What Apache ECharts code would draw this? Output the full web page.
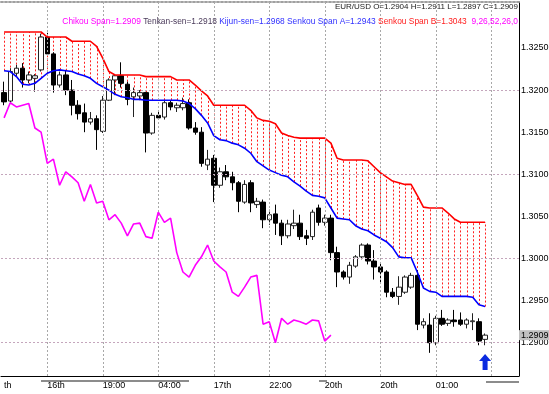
<!DOCTYPE html>
<html><head><meta charset="utf-8">
<script src="https://cdn.jsdelivr.net/npm/echarts@6/dist/echarts.min.js"></script>
<style>html,body{margin:0;padding:0;background:#fff}#c{width:549px;height:394px}</style>
</head><body><div id="c"></div>
<script>
// ---- data ----
const opens = [1.3197,1.3187,1.3220,1.3226,1.3212,1.3214,1.3224,1.3263,1.3243,1.3206,
1.3218,1.3200,1.3182,1.3173,1.3162,1.3166,1.3151,1.3188,1.3212,1.3217,
1.3207,1.3192,1.3193,1.3197,1.3149,1.3170,1.3168,1.3185,1.3179,1.3179,
1.3185,1.3155,1.3150,1.3111,1.3119,1.3087,1.3103,1.3097,1.3090,1.3067,
1.3090,1.3064,1.3067,1.3046,1.3053,1.3042,1.3027,1.3039,1.3042,1.3027,
1.3026,1.3060,1.3043,1.3048,1.3007,1.2984,1.2978,1.2991,1.3002,1.3016,
1.2997,1.2990,1.2984,1.2960,1.2955,1.2960,1.2966,1.2980,1.2921,1.2921,
1.2900,1.2929,1.2923,1.2927,1.2927,1.2922,1.2925,1.2925,1.2904];
const closes = [1.3186,1.3222,1.3226,1.3212,1.3218,1.3217,1.3263,1.3243,1.3206,1.3218,
1.3200,1.3182,1.3172,1.3162,1.3166,1.3153,1.3188,1.3212,1.3217,1.3208,
1.3189,1.3197,1.3197,1.3149,1.3170,1.3167,1.3185,1.3180,1.3182,1.3184,
1.3155,1.3150,1.3113,1.3118,1.3087,1.3103,1.3097,1.3090,1.3068,1.3088,
1.3066,1.3068,1.3046,1.3052,1.3042,1.3027,1.3041,1.3042,1.3026,1.3024,
1.3055,1.3043,1.3048,1.3007,1.2984,1.2978,1.2992,1.3002,1.3016,1.2997,
1.2990,1.2984,1.2960,1.2955,1.2966,1.2978,1.2980,1.2922,1.2925,1.2900,
1.2929,1.2922,1.2927,1.2925,1.2922,1.2927,1.2926,1.2902,1.2909];
const lows = [1.3182,1.3185,1.3217,1.3203,1.3208,1.3198,1.3222,1.3241,1.3197,1.3203,
1.3194,1.3170,1.3165,1.3150,1.3159,1.3129,1.3149,1.3187,1.3194,1.3203,
1.3182,1.3168,1.3188,1.3126,1.3147,1.3165,1.3165,1.3176,1.3174,1.3176,
1.3153,1.3147,1.3109,1.3105,1.3067,1.3084,1.3093,1.3081,1.3055,1.3065,
1.3055,1.3060,1.3036,1.3040,1.3028,1.3016,1.3024,1.3035,1.3022,1.3016,
1.3022,1.3039,1.3039,1.2998,1.2966,1.2975,1.2970,1.2989,1.2999,1.2993,
1.2975,1.2971,1.2954,1.2953,1.2945,1.2958,1.2964,1.2915,1.2917,1.2888,
1.2897,1.2920,1.2920,1.2919,1.2920,1.2917,1.2915,1.2897,1.2897];
const highs = [1.3210,1.3226,1.3230,1.3232,1.3222,1.3219,1.3267,1.3268,1.3245,1.3222,
1.3224,1.3212,1.3188,1.3184,1.3174,1.3170,1.3193,1.3214,1.3219,1.3233,
1.3210,1.3203,1.3200,1.3198,1.3173,1.3174,1.3188,1.3187,1.3185,1.3191,
1.3189,1.3162,1.3156,1.3129,1.3123,1.3108,1.3111,1.3103,1.3092,1.3093,
1.3093,1.3072,1.3070,1.3058,1.3064,1.3046,1.3046,1.3058,1.3052,1.3034,
1.3058,1.3064,1.3052,1.3052,1.3014,1.2986,1.2996,1.3004,1.3018,1.3018,
1.3010,1.2995,1.2986,1.2965,1.2979,1.2980,1.2983,1.2986,1.2929,1.2935,
1.2932,1.2939,1.2929,1.2939,1.2936,1.2929,1.2935,1.2929,1.2911];
const senkouA = [1.3223,1.3222,1.3216,1.3207,1.3206,1.3208,1.3214,1.3220,1.3223,1.3224,
1.3223,1.3222,1.3219,1.3217,1.3214,1.3208,1.3204,1.3200,1.3195,1.3192,
1.3191,1.3189,1.3189,1.3188,1.3188,1.3188,1.3188,1.3188,1.3188,1.3187,
1.3184,1.3178,1.3170,1.3161,1.3146,1.3141,1.3140,1.3137,1.3135,1.3131,
1.3125,1.3115,1.3110,1.3105,1.3102,1.3099,1.3097,1.3091,1.3086,1.3080,
1.3075,1.3074,1.3072,1.3060,1.3048,1.3047,1.3046,1.3039,1.3035,1.3033,
1.3028,1.3024,1.3020,1.3013,1.3002,1.3001,1.3001,1.2984,1.2965,1.2961,
1.2960,1.2955,1.2955,1.2955,1.2955,1.2955,1.2954,1.2945,1.2943];
const senkouB = [1.3269,1.3269,1.3269,1.3269,1.3269,1.3269,1.3269,1.3263,1.3263,1.3263,
1.3263,1.3258,1.3258,1.3258,1.3258,1.3252,1.3238,1.3222,1.3218,1.3218,
1.3218,1.3218,1.3218,1.3216,1.3216,1.3216,1.3216,1.3216,1.3212,1.3212,
1.3212,1.3206,1.3199,1.3193,1.3182,1.3182,1.3182,1.3182,1.3182,1.3182,
1.3176,1.3167,1.3164,1.3163,1.3160,1.3149,1.3146,1.3144,1.3143,1.3143,
1.3143,1.3143,1.3143,1.3137,1.3119,1.3117,1.3117,1.3117,1.3117,1.3116,
1.3109,1.3102,1.3097,1.3092,1.3090,1.3088,1.3088,1.3075,1.3061,1.3060,
1.3060,1.3060,1.3054,1.3047,1.3043,1.3043,1.3043,1.3043,1.3043];
const chikouLag = 25;            // chikou span = close plotted back
const slotCount = 84;            // bars + empty space on the right
const tickIdx  = [0, 7, 16, 25, 34, 43, 52, 61, 70];
const tickText = ['th','16th','19:00','04:00','17th','22:00','20th','20th','01:00'];
const vGridIdx = [7, 16, 25, 34, 43, 52, 61, 70, 79];
const yTicks = [1.2900,1.2950,1.3000,1.3050,1.3100,1.3150,1.3200,1.3250];
const yMin = 1.28605, yMax = 1.33046;
const symbolName = 'EUR/USD';
const lastOHLC = [1.2904, 1.2911, 1.2897, 1.2909]; // O H L C
const ichiNames  = ['Chikou Span','Tenkan-sen','Kijun-sen','Senkou Span A','Senkou Span B'];
const ichiValues = [1.2909, 1.2918, 1.2968, 1.2943, 1.3043];
const ichiParams = '9,26,52,26,0';
const signalArrow = [78, 1.2877];

// ---- build ----
const categories = Array.from({length: slotCount}, (_, i) => String(i));
const labelMap = {}; tickIdx.forEach((k, j) => labelMap[k] = tickText[j]);
const candleData = opens.map((o, i) => [o, closes[i], lows[i], highs[i]]);
const chikou = closes.map((c, i) => (i + chikouLag < closes.length ? closes[i + chikouLag] : null));
const cloud = senkouA.map((a, i) => [i, a, senkouB[i]]);
const FONT = "'Liberation Sans', Arial, sans-serif";
const HFS = 8.4;
const rich = {
  m: {color: '#ff00ff', fontSize: HFS, fontFamily: FONT},
  t: {color: '#4a3a5a', fontSize: HFS, fontFamily: FONT},
  k: {color: '#3030ff', fontSize: HFS, fontFamily: FONT},
  r: {color: '#ff2020', fontSize: HFS, fontFamily: FONT}
};
const keys = ['m','t','k','k','r'];
const line2 = ichiNames.map((n, i) => `{${keys[i]}|${n}=${ichiValues[i].toFixed(4)}}`).join(' ') + `  {m|${ichiParams}}`;
const lastClose = closes[closes.length - 1];

const chart = echarts.init(document.getElementById('c'), null, {renderer: 'canvas'});
chart.setOption({
  animation: false,
  backgroundColor: '#fff',
  title: [
    {text: `${symbolName} O=${lastOHLC[0].toFixed(4)} H=${lastOHLC[1].toFixed(4)} L=${lastOHLC[2].toFixed(4)} C=${lastOHLC[3].toFixed(4)}`,
     right: 31, top: 3, padding: 0,
     textStyle: {fontSize: 8, fontWeight: 'normal', color: '#202020', fontFamily: FONT}},
    {text: line2, right: 31, top: 18, padding: 0, textStyle: {fontSize: HFS, fontWeight: 'normal', rich}}
  ],
  grid: {left: 1, right: 30, top: 2, bottom: 18, containLabel: false, outerBoundsMode: 'none'},
  xAxis: [
    {type: 'category', data: categories, boundaryGap: true,
     axisLine: {lineStyle: {color: '#000', width: 1}}, axisTick: {show: false}, splitLine: {show: false},
     axisLabel: {interval: 0, align: 'left', margin: 5, fontSize: 9, color: '#000', fontFamily: FONT,
                 formatter: (v, idx) => labelMap[idx] || ''}},
    {type: 'category', data: categories, position: 'top', boundaryGap: true,
     axisLine: {lineStyle: {color: '#a0a0a0', width: 2, type: [2, 2]}}, axisTick: {show: false}, axisLabel: {show: false}}
  ],
  yAxis: [
    {type: 'value', position: 'right', min: yMin, max: yMax,
     axisLine: {show: true, lineStyle: {color: '#000'}}, axisTick: {show: false}, splitLine: {show: false},
     axisLabel: {customValues: yTicks, margin: 2, fontSize: 9, color: '#000', fontFamily: FONT,
                 formatter: v => v.toFixed(4)}},
    {type: 'value', position: 'right', offset: 0, min: yMin, max: yMax,
     axisLine: {show: false}, axisTick: {show: false}, splitLine: {show: false},
     axisLabel: {customValues: [lastClose], margin: 0, fontSize: 9, color: '#000', fontFamily: FONT,
                 backgroundColor: '#c0c0c0', padding: [1, 1, 0, 2], lineHeight: 9,
                 formatter: v => v.toFixed(4)}}
  ],
  graphic: [
    {type: 'rect', shape: {x: 41, y: 380, width: 148, height: 2}, style: {fill: '#8c8c8c'}},
    {type: 'rect', shape: {x: 319, y: 380, width: 8, height: 2}, style: {fill: '#8c8c8c'}},
    {type: 'rect', shape: {x: 486, y: 381, width: 33, height: 2}, style: {fill: '#8c8c8c'}}
  ],
  series: [
    {type: 'line', name: 'grid', data: [], z: 1, silent: true,
     markLine: {silent: true, symbol: ['none', 'none'], label: {show: false}, animation: false,
       lineStyle: {color: '#a8a8a8', type: [2, 2], width: 1},
       data: [
         ...vGridIdx.map(i => ({xAxis: String(i)})),
         ...yTicks.map(v => ({yAxis: v, lineStyle: {color: '#c4a6bc', type: [2, 2], width: 1}}))
       ]}},
    {type: 'custom', name: 'cloud', z: 2, silent: true, data: cloud,
     renderItem: (params, api) => {
       const p1 = api.coord([api.value(0), api.value(1)]);
       const p2 = api.coord([api.value(0), api.value(2)]);
       const x = Math.round(p1[0]) + 0.5;
       return {type: 'line', shape: {x1: x, y1: p1[1], x2: x, y2: p2[1]},
               style: {stroke: '#ff2020', lineWidth: 1, lineDash: [2, 2]}};
     }},
    {type: 'candlestick', name: 'EURUSD', z: 3, data: candleData, barWidth: 5,
     itemStyle: {color: '#ffffff', color0: '#000000', borderColor: '#222', borderColor0: '#000', borderWidth: 1},
     markPoint: {silent: true, data: [{coord: [String(signalArrow[0]), signalArrow[1]],
        symbol: 'path://M6,0 L12,7 L8.5,7 L8.5,16 L3.5,16 L3.5,7 L0,7 Z', symbolSize: [12, 16],
        itemStyle: {color: '#0a2ae0'}, label: {show: false}}]}},
    {type: 'line', name: 'Senkou Span B', z: 4, data: senkouB, symbol: 'none', silent: true,
     lineStyle: {color: '#ff0000', width: 1.6}},
    {type: 'line', name: 'Senkou Span A', z: 4, data: senkouA, symbol: 'none', silent: true,
     lineStyle: {color: '#0000ff', width: 1.6}},
    {type: 'line', name: 'Chikou Span', z: 5, data: chikou, symbol: 'none', silent: true, connectNulls: false,
     lineStyle: {color: '#ff00ff', width: 1.6}}
  ]
});
</script></body></html>
